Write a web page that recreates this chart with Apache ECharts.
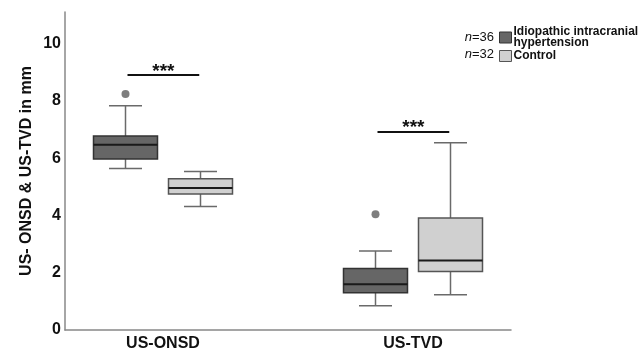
<!DOCTYPE html>
<html>
<head>
<meta charset="utf-8">
<script src="https://cdn.jsdelivr.net/npm/echarts@6/dist/echarts.min.js"></script>
<style>
  html, body { margin: 0; padding: 0; background: #fff; }
  #container { width: 644px; height: 354px; }
</style>
</head>
<body>
<div id="container"></div>
<script>
// categories on the x axis
var categories = ['US-ONSD', 'US-TVD'];
// [min, Q1, median, Q3, max] per category
var iihBox = [[5.64, 5.97, 6.47, 6.77, 7.83], [0.85, 1.30, 1.60, 2.15, 2.76]];
var ctrlBox = [[4.31, 4.75, 4.96, 5.28, 5.53], [1.23, 2.04, 2.43, 3.91, 6.54]];
// outliers [category index, value]
var iihOutliers = [[0, 8.24], [1, 4.04]];
// height of the *** bars
var sigLevels = [8.9, 6.92];
var yTicks = [0, 2, 4, 6, 8, 10];

(function(){
	var boxW = 0.256, capW = 0.132, shift = 0.15;

	function toRows(boxes){
		var rows = [];
		for (var i = 0; i < boxes.length; ++i) {
			rows.push([i].concat(boxes[i]));
		}
		return rows;
	}

	function boxRenderer(offset, fill, stroke){
		return function(params, api){
			var c = api.value(0) + offset;
			var lo = api.coord([c, api.value(1)]);
			var q1 = api.coord([c, api.value(2)]);
			var md = api.coord([c, api.value(3)]);
			var q3 = api.coord([c, api.value(4)]);
			var hi = api.coord([c, api.value(5)]);
			var hb = api.size([boxW, 0])[0] / 2;
			var hc = api.size([capW, 0])[0] / 2;
			var x = lo[0];
			var wl = {stroke: '#6a6a6a', lineWidth: 1.5};
			return {
				type: 'group',
				children: [
					{type: 'line', shape: {x1: x, y1: hi[1], x2: x, y2: q3[1]}, style: wl},
					{type: 'line', shape: {x1: x, y1: q1[1], x2: x, y2: lo[1]}, style: wl},
					{type: 'line', shape: {x1: x - hc, y1: hi[1], x2: x + hc, y2: hi[1]}, style: wl},
					{type: 'line', shape: {x1: x - hc, y1: lo[1], x2: x + hc, y2: lo[1]}, style: wl},
					{type: 'rect', shape: {x: x - hb, y: q3[1], width: hb * 2, height: q1[1] - q3[1]},
						style: {fill: fill, stroke: stroke, lineWidth: 1.5}},
					{type: 'line', shape: {x1: x - hb, y1: md[1], x2: x + hb, y2: md[1]},
						style: {stroke: '#1a1a1a', lineWidth: 2}}
				]
			};
		};
	}

	var outlierData = [];
	for (var i = 0; i < iihOutliers.length; ++i) {
		outlierData.push([iihOutliers[i][0] - shift, iihOutliers[i][1]]);
	}

	var sigLines = [];
	for (var k = 0; k < sigLevels.length; ++k) {
		sigLines.push([
			{coord: [k - 0.142, sigLevels[k]]},
			{coord: [k + 0.145, sigLevels[k]]}
		]);
	}

	var myChart = echarts.init(document.getElementById('container'));
	var option = {
		animation: false,
		textStyle: {fontFamily: 'Liberation Sans, Arial, sans-serif'},
		grid: {left: 65, right: 133, top: 12, bottom: 24},
		legend: {
			orient: 'vertical',
			left: 494,
			top: 21,
			itemWidth: 12,
			itemHeight: 11,
			itemGap: 1,
			icon: 'rect',
			textStyle: {fontSize: 12, fontWeight: 'bold', color: '#111', lineHeight: 11, padding: [0, 0, 0, -3]},
			data: [
				{name: 'Idiopathic intracranial\nhypertension', itemStyle: {color: '#666', borderColor: '#333', borderWidth: 1}},
				{name: 'Control', itemStyle: {color: '#d0d0d0', borderColor: '#555', borderWidth: 1}}
			]
		},
		graphic: [
			{type: 'text', right: 644 - 494, top: 31, style: {text: '{i|n}=36', fill: '#111', font: '13px Liberation Sans',
				rich: {i: {fontStyle: 'italic', fontSize: 13, fontFamily: 'Liberation Sans'}}}},
			{type: 'text', right: 644 - 494, top: 48, style: {text: '{i|n}=32', fill: '#111', font: '13px Liberation Sans',
				rich: {i: {fontStyle: 'italic', fontSize: 13, fontFamily: 'Liberation Sans'}}}}
		],
		xAxis: {
			type: 'value',
			min: -0.392,
			max: 1.392,
			axisLine: {show: true, lineStyle: {color: '#888', width: 1.5}},
			axisTick: {show: false},
			splitLine: {show: false},
			axisLabel: {
				customValues: [0, 1],
				formatter: function(v){ return categories[Math.round(v)]; },
				fontSize: 16, fontWeight: 'bold', color: '#111', margin: 6
			}
		},
		yAxis: {
			type: 'value',
			min: 0,
			max: 11.1,
			name: 'US- ONSD & US-TVD in mm',
			nameLocation: 'middle',
			nameGap: 30,
			nameMoveOverlap: false,
			nameTextStyle: {fontSize: 16, fontWeight: 'bold', color: '#111'},
			axisLine: {show: true, onZero: false, lineStyle: {color: '#888', width: 1.5}},
			axisTick: {show: false},
			splitLine: {show: false},
			axisLabel: {
				customValues: yTicks,
				fontSize: 16, fontWeight: 'bold', color: '#111', margin: 4
			}
		},
		series: [
			{
				name: 'Idiopathic intracranial\nhypertension',
				type: 'custom',
				itemStyle: {color: '#666'},
				renderItem: boxRenderer(-shift, '#666', '#333'),
				encode: {x: 0, y: [1, 2, 3, 4, 5]},
				data: toRows(iihBox)
			},
			{
				name: 'Control',
				type: 'custom',
				itemStyle: {color: '#d0d0d0'},
				renderItem: boxRenderer(shift, '#d0d0d0', '#555'),
				encode: {x: 0, y: [1, 2, 3, 4, 5]},
				data: toRows(ctrlBox)
			},
			{
				name: 'outliers',
				type: 'scatter',
				symbolSize: 8,
				itemStyle: {color: '#5e5e5e'},
				data: outlierData,
				markLine: {
					symbol: 'none',
					silent: true,
					lineStyle: {color: '#111', width: 2, type: 'solid'},
					label: {show: true, position: 'insideMiddleTop', formatter: '***', fontSize: 19, fontWeight: 'bold',
						color: '#111', distance: 0, offset: [0, 6]},
					data: sigLines
				}
			}
		]
	};
	myChart.setOption(option);
})();
</script>
</body>
</html>
